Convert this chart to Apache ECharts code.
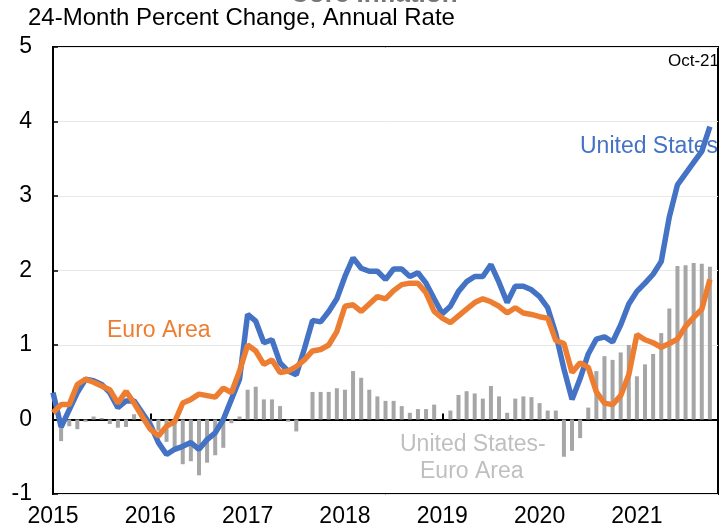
<!DOCTYPE html>
<html>
<head>
<meta charset="utf-8">
<script src="https://cdn.jsdelivr.net/npm/echarts@6/dist/echarts.min.js"></script>
<style>html,body{margin:0;padding:0;background:#fff;}#c{width:721px;height:529px;}</style>
</head>
<body>
<div id="c"></div>
<script>
// Monthly, Jan 2015 .. Oct 2021 (index 0 = Jan 2015)
var yearLabels = ['2015','2016','2017','2018','2019','2020','2021'];
var yTicks = [-1, 0, 1, 2, 3, 4, 5];
var usValues = [
  0.36,-0.10,0.13,0.36,0.54,0.52,0.47,0.36,0.16,0.25,0.25,0.09,
  -0.07,-0.31,-0.47,-0.40,-0.36,-0.31,-0.40,-0.27,-0.18,0.00,0.27,0.54,
  1.41,1.32,1.03,1.07,0.76,0.65,0.60,0.95,1.33,1.31,1.45,1.62,
  1.92,2.17,2.03,1.99,1.99,1.88,2.02,2.02,1.92,1.97,1.83,1.62,
  1.42,1.52,1.72,1.85,1.92,1.92,2.08,1.84,1.57,1.79,1.79,1.74,
  1.65,1.50,1.15,0.68,0.27,0.55,0.88,1.08,1.11,1.04,1.27,1.55,
  1.72,1.83,1.95,2.12,2.72,3.15,3.30,3.45,3.60,3.93
];
var euroValues = [
  0.09,0.20,0.20,0.47,0.54,0.50,0.45,0.40,0.22,0.38,0.22,0.04,
  -0.13,-0.22,-0.09,-0.03,0.22,0.27,0.34,0.32,0.30,0.42,0.36,0.65,
  1.00,0.92,0.74,0.80,0.63,0.65,0.71,0.80,0.92,0.94,1.00,1.18,
  1.52,1.54,1.45,1.55,1.65,1.62,1.73,1.81,1.83,1.83,1.70,1.45,
  1.36,1.30,1.39,1.48,1.57,1.62,1.58,1.52,1.43,1.50,1.43,1.41,
  1.38,1.36,1.06,1.02,0.63,0.76,0.70,0.37,0.22,0.20,0.32,0.60,
  1.14,1.07,1.03,0.97,1.02,1.08,1.25,1.37,1.48,1.88
];
var diffValues = [
  0.00,-0.29,-0.09,-0.13,-0.03,0.04,0.02,-0.06,-0.11,-0.10,0.07,0.02,
  -0.05,-0.15,-0.30,-0.38,-0.60,-0.56,-0.75,-0.58,-0.48,-0.38,-0.05,0.04,
  0.40,0.44,0.27,0.27,0.18,-0.03,-0.16,0.00,0.37,0.37,0.37,0.42,
  0.40,0.65,0.56,0.40,0.31,0.25,0.25,0.18,0.09,0.14,0.14,0.20,
  0.00,0.12,0.33,0.38,0.35,0.28,0.45,0.31,0.09,0.28,0.31,0.30,
  0.22,0.12,0.12,-0.50,-0.42,-0.25,0.16,0.65,0.85,0.80,0.90,1.00,
  0.58,0.74,0.88,1.16,1.49,2.06,2.07,2.10,2.09,2.05
];

function pairs(arr){ return arr.map(function(v,i){ return [i, v]; }); }

var FONT = '"Liberation Sans", Arial, sans-serif';
var chart = echarts.init(document.getElementById('c'), null, {renderer:'canvas'});
chart.setOption({
  animation: false,
  backgroundColor: '#fff',
  textStyle: { fontFamily: FONT },
  grid: {
    left: 53, right: -4, top: 47, bottom: 35,
    show: true, borderColor: '#000', borderWidth: 2, backgroundColor: 'transparent'
  },
  xAxis: [
    {
      type: 'value', min: 0, max: 82, interval: 12,
      axisLine: { show: true, onZero: true, lineStyle: { color: '#000', width: 2 } },
      axisTick: { show: true, inside: true, length: 6, lineStyle: { color: '#000', width: 2 } },
      axisLabel: { show: false },
      splitLine: { show: false }
    },
    {
      type: 'value', min: 0, max: 82, interval: 12, position: 'bottom',
      axisLine: { show: false, onZero: false },
      axisTick: { show: false },
      axisLabel: {
        show: true, margin: 11, color: '#000', fontSize: 23, fontFamily: FONT,
        formatter: function(v){ return yearLabels[Math.round(v/12)] || ''; }
      },
      splitLine: { show: false }
    }
  ],
  yAxis: {
    type: 'value', min: yTicks[0], max: yTicks[yTicks.length-1], interval: 1,
    axisLine: { show: true, lineStyle: { color: '#000', width: 2 } },
    axisTick: { show: true, inside: true, length: 5, lineStyle: { color: '#000', width: 1.5 } },
    axisLabel: { color: '#000', fontSize: 23, margin: 21, fontFamily: FONT },
    splitLine: { show: true, lineStyle: { color: '#e8e8e8', width: 1 } }
  },
  series: [
    {
      name: 'United States-Euro Area', type: 'bar', xAxisIndex: 0,
      data: pairs(diffValues), barWidth: 4,
      itemStyle: { color: '#a6a6a6' }, z: 1
    },
    {
      name: 'United States', type: 'line', xAxisIndex: 0,
      data: pairs(usValues), showSymbol: false, symbol: 'none',
      lineStyle: { color: '#4472c4', width: 5.5 }, z: 3
    },
    {
      name: 'Euro Area', type: 'line', xAxisIndex: 0,
      data: pairs(euroValues), showSymbol: false, symbol: 'none',
      lineStyle: { color: '#ed7d31', width: 5.5 }, z: 4
    }
  ],
  graphic: [
    { type: 'text', x: 290, y: -18.5, style: { text: 'Core Inflation', font: 'bold 26px ' + FONT, fill: '#777' } },
    { type: 'text', left: 28, top: 6, style: { text: '24-Month Percent Change, Annual Rate', font: '24px ' + FONT, fill: '#000' } },
    { type: 'text', left: 668, top: 53, style: { text: 'Oct-21', font: '17px ' + FONT, fill: '#000' } },
    { type: 'text', left: 580, top: 135, style: { text: 'United States', font: '23px ' + FONT, fill: '#4472c4' } },
    { type: 'text', left: 107, top: 319, style: { text: 'Euro Area', font: '23px ' + FONT, fill: '#ed7d31' } },
    { type: 'text', left: 400, top: 433, style: { text: 'United States-', font: '23px ' + FONT, fill: '#bfbfbf' } },
    { type: 'text', left: 420, top: 460, style: { text: 'Euro Area', font: '23px ' + FONT, fill: '#bfbfbf' } }
  ]
});
</script>
</body>
</html>
